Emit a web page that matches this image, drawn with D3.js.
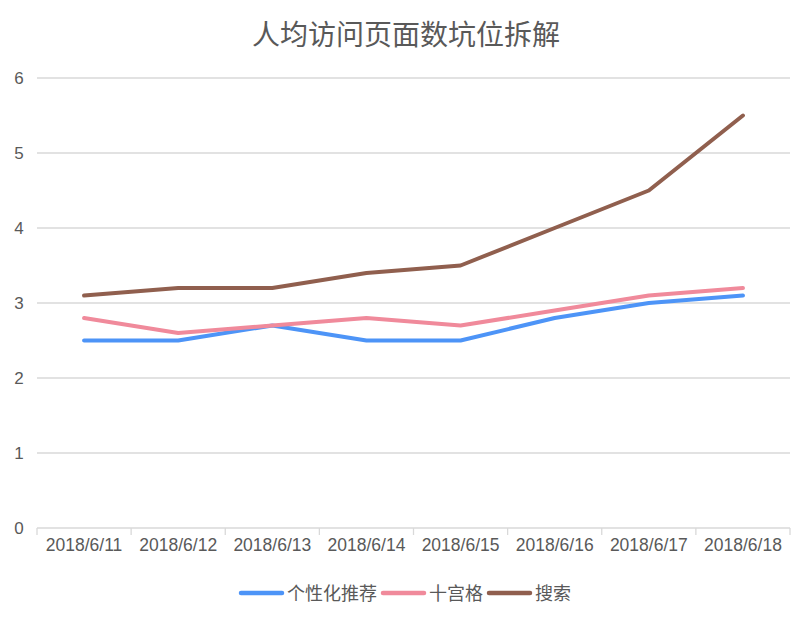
<!DOCTYPE html>
<html>
<head>
<meta charset="utf-8">
<script src="https://cdn.jsdelivr.net/npm/d3@7"></script>
<style>
body { margin: 0; background: #fff; }
text { font-family: "Liberation Sans", "Noto Sans CJK SC", sans-serif; fill: #595959; }
</style>
</head>
<body>
<svg id="chart" width="812" height="624"></svg>
<script>
// chart data
var dates = ["2018/6/11", "2018/6/12", "2018/6/13", "2018/6/14", "2018/6/15", "2018/6/16", "2018/6/17", "2018/6/18"];
var personal = [2.5, 2.5, 2.7, 2.5, 2.5, 2.8, 3.0, 3.1];
var grid9 = [2.8, 2.6, 2.7, 2.8, 2.7, 2.9, 3.1, 3.2];
var search = [3.1, 3.2, 3.2, 3.4, 3.5, 4.0, 4.5, 5.5];
var seriesNames = ["个性化推荐", "十宫格", "搜索"];
var yTicks = [0, 1, 2, 3, 4, 5, 6];
var colours = ["#4d94f7", "#f08a9b", "#905f4e"];

var series = [personal, grid9, search];

var svg = d3.select("#chart");
var plotLeft = 37, plotRight = 790, plotTop = 78, plotBottom = 528;

var x = d3.scaleBand().domain(dates).range([plotLeft, plotRight]);
var y = d3.scaleLinear().domain([0, 6]).range([plotBottom, plotTop]);

// title
svg.append("text")
	.attr("x", 406)
	.attr("y", 45)
	.attr("text-anchor", "middle")
	.style("font-family", "'Noto Sans CJK SC', sans-serif")
	.style("font-size", "28px")
	.text("人均访问页面数坑位拆解");

// gridlines + y labels
svg.selectAll(".grid")
	.data(yTicks)
	.enter().append("line")
	.attr("class", "grid")
	.attr("x1", plotLeft)
	.attr("x2", plotRight)
	.attr("y1", function(d) { return y(d); })
	.attr("y2", function(d) { return y(d); })
	.style("stroke", "#d9d9d9")
	.style("stroke-width", 1.3);

svg.selectAll(".ylab")
	.data(yTicks)
	.enter().append("text")
	.attr("class", "ylab")
	.attr("x", 19)
	.attr("y", function(d) { return y(d) + 6; })
	.attr("text-anchor", "middle")
	.style("font-size", "17px")
	.text(function(d) { return d; });

// x axis
var xAxis = d3.axisBottom(x).tickSize(0).tickPadding(0);
var gx = svg.append("g").attr("transform", "translate(0," + plotBottom + ")").call(xAxis);
gx.select(".domain").remove();
gx.selectAll("text")
	.attr("dy", "23px")
	.style("font-size", "17.5px")
	.style("font-family", "'Liberation Sans', sans-serif")
	.attr("fill", "#595959");

var tickPos = dates.map(function(d) { return x(d); }).concat([plotRight]);
svg.selectAll(".xtick")
	.data(tickPos)
	.enter().append("line")
	.attr("class", "xtick")
	.attr("x1", function(d) { return d; })
	.attr("x2", function(d) { return d; })
	.attr("y1", plotBottom)
	.attr("y2", plotBottom + 7)
	.style("stroke", "#d9d9d9")
	.style("stroke-width", 1.3);

// lines
var line = d3.line()
	.x(function(d, i) { return x(dates[i]) + x.bandwidth() / 2; })
	.y(function(d) { return y(d); });

svg.selectAll(".series")
	.data(series)
	.enter().append("path")
	.attr("class", "series")
	.attr("d", line)
	.style("fill", "none")
	.style("stroke", function(d, i) { return colours[i]; })
	.style("stroke-width", 4)
	.style("stroke-linejoin", "round")
	.style("stroke-linecap", "round");

// legend
var legendX = [241, 383, 489];
var legend = svg.selectAll(".legend")
	.data(seriesNames)
	.enter().append("g")
	.attr("class", "legend")
	.attr("transform", function(d, i) { return "translate(" + legendX[i] + ",593)"; });

legend.append("line")
	.attr("x1", 0)
	.attr("x2", 41)
	.style("stroke", function(d, i) { return colours[i]; })
	.style("stroke-width", 4.5)
	.style("stroke-linecap", "round");

legend.append("text")
	.attr("x", 46)
	.attr("y", 7)
	.style("font-family", "'Noto Sans CJK SC', sans-serif")
	.style("font-size", "18px")
	.text(function(d) { return d; });
</script>
</body>
</html>
